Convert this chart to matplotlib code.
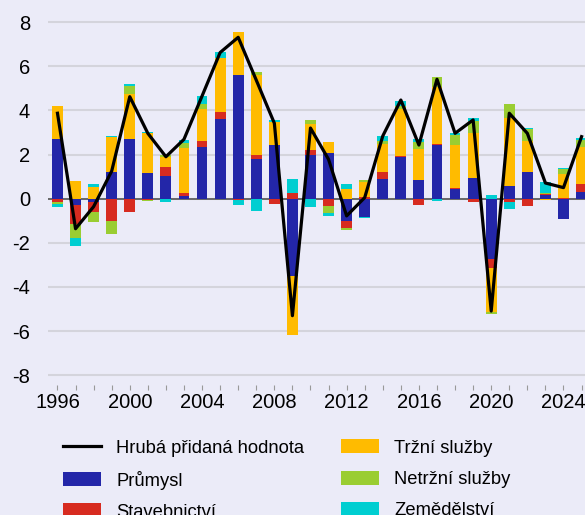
import numpy as np
import matplotlib.pyplot as plt

plt.rcParams["font.family"] = ["Liberation Sans", "DejaVu Sans"]
plt.rcParams["axes.unicode_minus"] = False

years = list(range(1996, 2026))

# contributions to GVA growth (p.p.)
prumysl = [2.72, -0.29, -0.15, 1.21, 2.72, 1.16, 1.03, 0.12, 2.34, 3.61,
           5.60, 1.80, 2.43, -3.49, 1.99, 2.07, -1.00, -0.82, 0.89, 1.89,
           0.85, 2.43, 0.44, 0.94, -2.73, 0.57, 1.21, 0.18, -0.92, 0.32]
stavebnictvi = [-0.15, -0.86, -0.45, -1.00, -0.60, -0.06, 0.41, 0.14, 0.27, 0.32,
                -0.05, 0.18, -0.23, 0.26, 0.21, -0.32, -0.33, 0.07, 0.32, 0.06,
                -0.27, 0.06, 0.06, -0.14, -0.41, -0.15, -0.33, 0.05, 0.05, 0.36]
trzni = [1.48, 0.80, 0.53, 1.59, 2.02, 1.81, 0.44, 2.05, 1.45, 2.45,
         1.95, 3.62, 1.06, -2.69, 1.18, 0.50, 0.44, 0.68, 1.27, 2.13,
         1.40, 2.55, 1.93, 2.04, -1.98, 3.08, 1.40, -0.05, 1.09, 1.68]
netrzni = [-0.09, -0.63, -0.44, -0.59, 0.36, -0.05, 0.09, 0.23, 0.23, -0.03,
           0.02, 0.14, 0.0, 0.0, 0.18, -0.33, -0.09, 0.09, 0.14, 0.12,
           0.32, 0.47, 0.45, 0.54, -0.09, 0.63, 0.54, 0.05, 0.21, 0.30]
zemedelstvi = [-0.12, -0.36, 0.14, 0.05, 0.09, 0.05, -0.15, 0.11, 0.36, 0.27,
               -0.23, -0.54, 0.08, 0.63, -0.36, -0.12, 0.23, -0.05, 0.23, 0.23,
               0.12, -0.09, 0.09, 0.14, 0.17, -0.32, 0.05, 0.48, 0.05, 0.10]
hpd = [3.87, -1.36, -0.36, 1.25, 4.62, 2.96, 1.90, 2.69, 4.65, 6.62,
       7.31, 5.37, 3.42, -5.30, 3.20, 1.78, -0.78, 0.05, 2.84, 4.47,
       2.43, 5.41, 2.96, 3.57, -5.09, 3.87, 2.96, 0.71, 0.50, 2.81]

series = [
    ("Průmysl", prumysl, "#2326A8"),
    ("Stavebnictví", stavebnictvi, "#D72B20"),
    ("Tržní služby", trzni, "#FFBB00"),
    ("Netržní služby", netrzni, "#9ACD32"),
    ("Zemědělství", zemedelstvi, "#00CED1"),
]

bg = "#EBEBF8"
fig = plt.figure(figsize=(5.85, 5.15), dpi=100, facecolor=bg)
ax = fig.add_axes([0.082, 0.2524, 0.918, 0.7476], facecolor=bg)

x = np.array(years)
pos_bottom = np.zeros(len(years))
neg_bottom = np.zeros(len(years))
handles = {}
for name, vals, color in series:
    v = np.array(vals)
    bottom = np.where(v >= 0, pos_bottom, neg_bottom)
    handles[name] = ax.bar(x, v, width=0.6, bottom=bottom, color=color,
                           zorder=3, label=name)
    pos_bottom = pos_bottom + np.clip(v, 0, None)
    neg_bottom = neg_bottom + np.clip(v, None, 0)

line, = ax.plot(x, hpd, color="black", linewidth=2.3, zorder=4,
                label="Hrubá přidaná hodnota")

ax.axhline(0, color="#555555", linewidth=1.2, zorder=2)

ax.set_xlim(1995.474, 2025.19)
ax.set_ylim(-8.44, 9.0)
ax.set_yticks(range(-8, 9, 2))
ax.set_xticks(years)
ax.set_xticklabels([str(y) if y % 4 == 0 else "" for y in years])
ax.yaxis.grid(True, color="#D4D4DC", linewidth=1.5, zorder=0)
ax.set_axisbelow(True)
for s in ax.spines.values():
    s.set_visible(False)
ax.tick_params(axis="y", length=0, pad=13, labelsize=14.5)
ax.tick_params(axis="x", length=3.5, width=0.8, color="#999999", pad=2.5,
               labelsize=14.5)

order = [line, handles["Průmysl"], handles["Stavebnictví"],
         handles["Tržní služby"], handles["Netržní služby"], handles["Zemědělství"]]
fig.legend(order, [h.get_label() for h in order], ncol=2, frameon=False,
           loc="upper left", bbox_to_anchor=(0.092, 0.165), borderpad=0,
           fontsize=13.2, handlelength=2.1, handleheight=0.8,
           handletextpad=0.8, columnspacing=2.0, labelspacing=0.76)

fig.savefig("out.png", dpi=100, facecolor=bg)
